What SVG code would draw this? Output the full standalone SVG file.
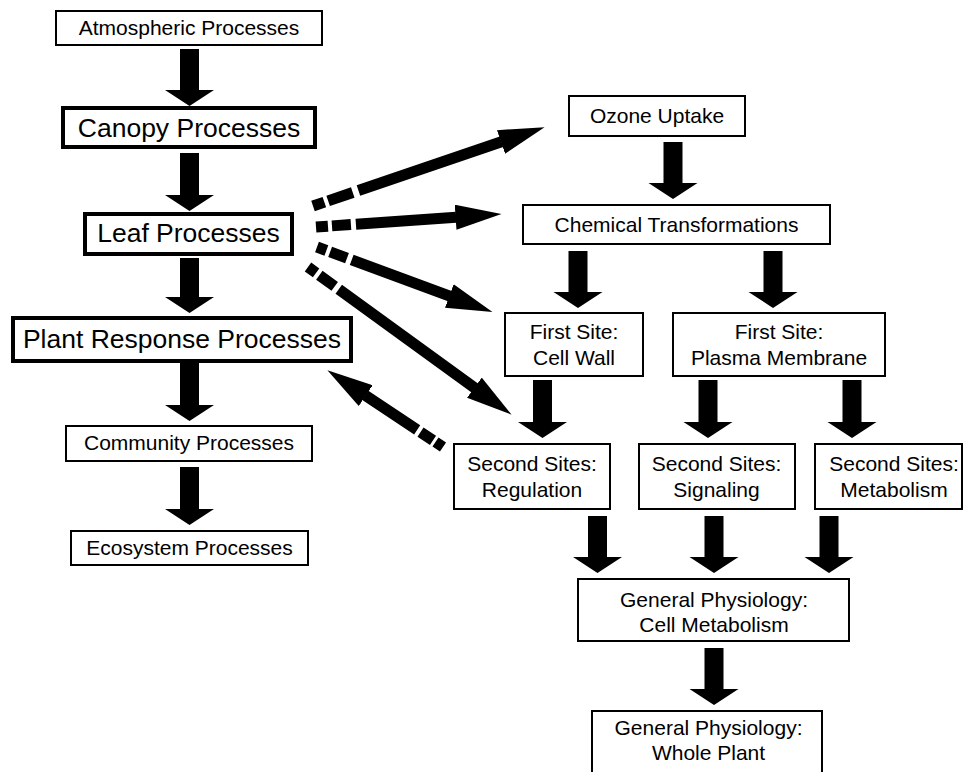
<svg xmlns="http://www.w3.org/2000/svg" width="966" height="772" viewBox="0 0 966 772">
  <style>
    .box { fill: #fff; stroke: #000; stroke-width: 2; }
    .box.bold { stroke-width: 4; }
    text { font-family: "Liberation Sans", Arial, sans-serif; font-size: 21px; fill: #000; text-anchor: middle; }
    text.big { font-size: 26.5px; }
    .block { fill: #000; stroke: none; }
    .diag { fill: none; stroke: #000; stroke-width: 11; stroke-linecap: butt; }
  </style>
  <defs>
    <marker id="head" viewBox="0 0 46 25" markerWidth="46" markerHeight="25" refX="0.5" refY="12.5" orient="auto" markerUnits="userSpaceOnUse">
      <path d="M0,0 L46,12.5 L0,25 z" fill="#000"/>
    </marker>
  </defs>
  <rect width="966" height="772" fill="#fff"/>

  <!-- left column -->
  <g id="atmospheric">
    <rect class="box" x="56" y="11" width="266" height="34"/>
    <text x="189" y="35">Atmospheric Processes</text>
  </g>
  <g id="canopy">
    <rect class="box bold" x="63" y="108" width="252" height="39"/>
    <text class="big" x="189" y="137">Canopy Processes</text>
  </g>
  <g id="leaf">
    <rect class="box bold" x="85" y="214" width="207" height="40"/>
    <text class="big" x="188.5" y="242">Leaf Processes</text>
  </g>
  <g id="plant-response">
    <rect class="box bold" x="13" y="318" width="338" height="43"/>
    <text class="big" x="182" y="348">Plant Response Processes</text>
  </g>
  <g id="community">
    <rect class="box" x="66" y="426" width="246" height="35"/>
    <text x="189" y="450">Community Processes</text>
  </g>
  <g id="ecosystem">
    <rect class="box" x="71" y="531" width="237" height="34"/>
    <text x="189.5" y="555">Ecosystem Processes</text>
  </g>

  <!-- right cascade -->
  <g id="ozone-uptake">
    <rect class="box" x="569" y="96" width="176" height="40"/>
    <text x="657" y="123">Ozone Uptake</text>
  </g>
  <g id="chemical">
    <rect class="box" x="523" y="205" width="307" height="39"/>
    <text x="676.5" y="232">Chemical Transformations</text>
  </g>
  <g id="cell-wall">
    <rect class="box" x="505" y="313" width="138" height="63"/>
    <text x="574" y="339">First Site:</text>
    <text x="574" y="365">Cell Wall</text>
  </g>
  <g id="plasma-membrane">
    <rect class="box" x="673" y="313" width="212" height="63"/>
    <text x="779" y="339">First Site:</text>
    <text x="779" y="365">Plasma Membrane</text>
  </g>
  <g id="regulation">
    <rect class="box" x="454" y="444" width="156" height="65"/>
    <text x="532" y="471">Second Sites:</text>
    <text x="532" y="497">Regulation</text>
  </g>
  <g id="signaling">
    <rect class="box" x="639" y="444" width="156" height="65"/>
    <text x="716.5" y="471">Second Sites:</text>
    <text x="716.5" y="497">Signaling</text>
  </g>
  <g id="metabolism">
    <rect class="box" x="815" y="444" width="147" height="65"/>
    <text x="894" y="471">Second Sites:</text>
    <text x="894" y="497">Metabolism</text>
  </g>
  <g id="cell-metabolism">
    <rect class="box" x="578" y="579" width="271" height="62"/>
    <text x="714" y="607">General Physiology:</text>
    <text x="714" y="632">Cell Metabolism</text>
  </g>
  <g id="whole-plant">
    <rect class="box" x="592" y="711" width="230" height="80"/>
    <text x="708.5" y="735">General Physiology:</text>
    <text x="708.5" y="760">Whole Plant</text>
  </g>

  <g id="connectors">
    <!-- block arrows: shaft 19 wide, head 49 wide, 16 long -->
    <path class="block" d="M180,49 H199 V90 H214 L189.5,106 L165,90 H180 Z"/>
    <path class="block" d="M180,153 H199 V195 H214 L189.5,211 L165,195 H180 Z"/>
    <path class="block" d="M180,258 H199 V297 H214 L189.5,313 L165,297 H180 Z"/>
    <path class="block" d="M180,363 H199 V405 H214 L189.5,421 L165,405 H180 Z"/>
    <path class="block" d="M180,467 H199 V509 H214 L189.5,525 L165,509 H180 Z"/>

    <path class="block" d="M663.5,142 H682.5 V183 H697.5 L673,199 L648.5,183 H663.5 Z"/>
    <path class="block" d="M568.5,251 H587.5 V292 H602.5 L578,308 L553.5,292 H568.5 Z"/>
    <path class="block" d="M763.5,251 H782.5 V292 H797.5 L773,308 L748.5,292 H763.5 Z"/>

    <path class="block" d="M533,380 H552 V422 H567 L542.5,438 L518,422 H533 Z"/>
    <path class="block" d="M698.5,380 H717.5 V422 H732.5 L708,438 L683.5,422 H698.5 Z"/>
    <path class="block" d="M842.5,380 H861.5 V422 H876.5 L852,438 L827.5,422 H842.5 Z"/>

    <path class="block" d="M588,516 H607 V557 H622 L597.5,573 L573,557 H588 Z"/>
    <path class="block" d="M704.5,516 H723.5 V557 H738.5 L714,573 L689.5,557 H704.5 Z"/>
    <path class="block" d="M819.5,516 H838.5 V557 H853.5 L829,573 L804.5,557 H819.5 Z"/>

    <path class="block" d="M704.5,648 H723.5 V689 H738.5 L714,705 L689.5,689 H704.5 Z"/>

    <!-- dashed-tail arrows leaving the leaf level -->
    <line class="diag" x1="313" y1="206" x2="501.5" y2="141.8" stroke-dasharray="12 4 26 6 2000" marker-end="url(#head)"/>
    <line class="diag" x1="316" y1="227" x2="456.1" y2="217.2" stroke-dasharray="12 4 19 5 2000" marker-end="url(#head)"/>
    <line class="diag" x1="317" y1="247" x2="449.8" y2="296.1" stroke-dasharray="10 4 18 5 2000" marker-end="url(#head)"/>
    <line class="diag" x1="308" y1="267" x2="474.8" y2="388" stroke-dasharray="10 4 19 5 2000" marker-end="url(#head)"/>
    <!-- feedback to plant response -->
    <line class="diag" x1="443" y1="447" x2="365.3" y2="395.4" stroke-dasharray="9 3 15 4 2000" marker-end="url(#head)"/>
  </g>
</svg>
